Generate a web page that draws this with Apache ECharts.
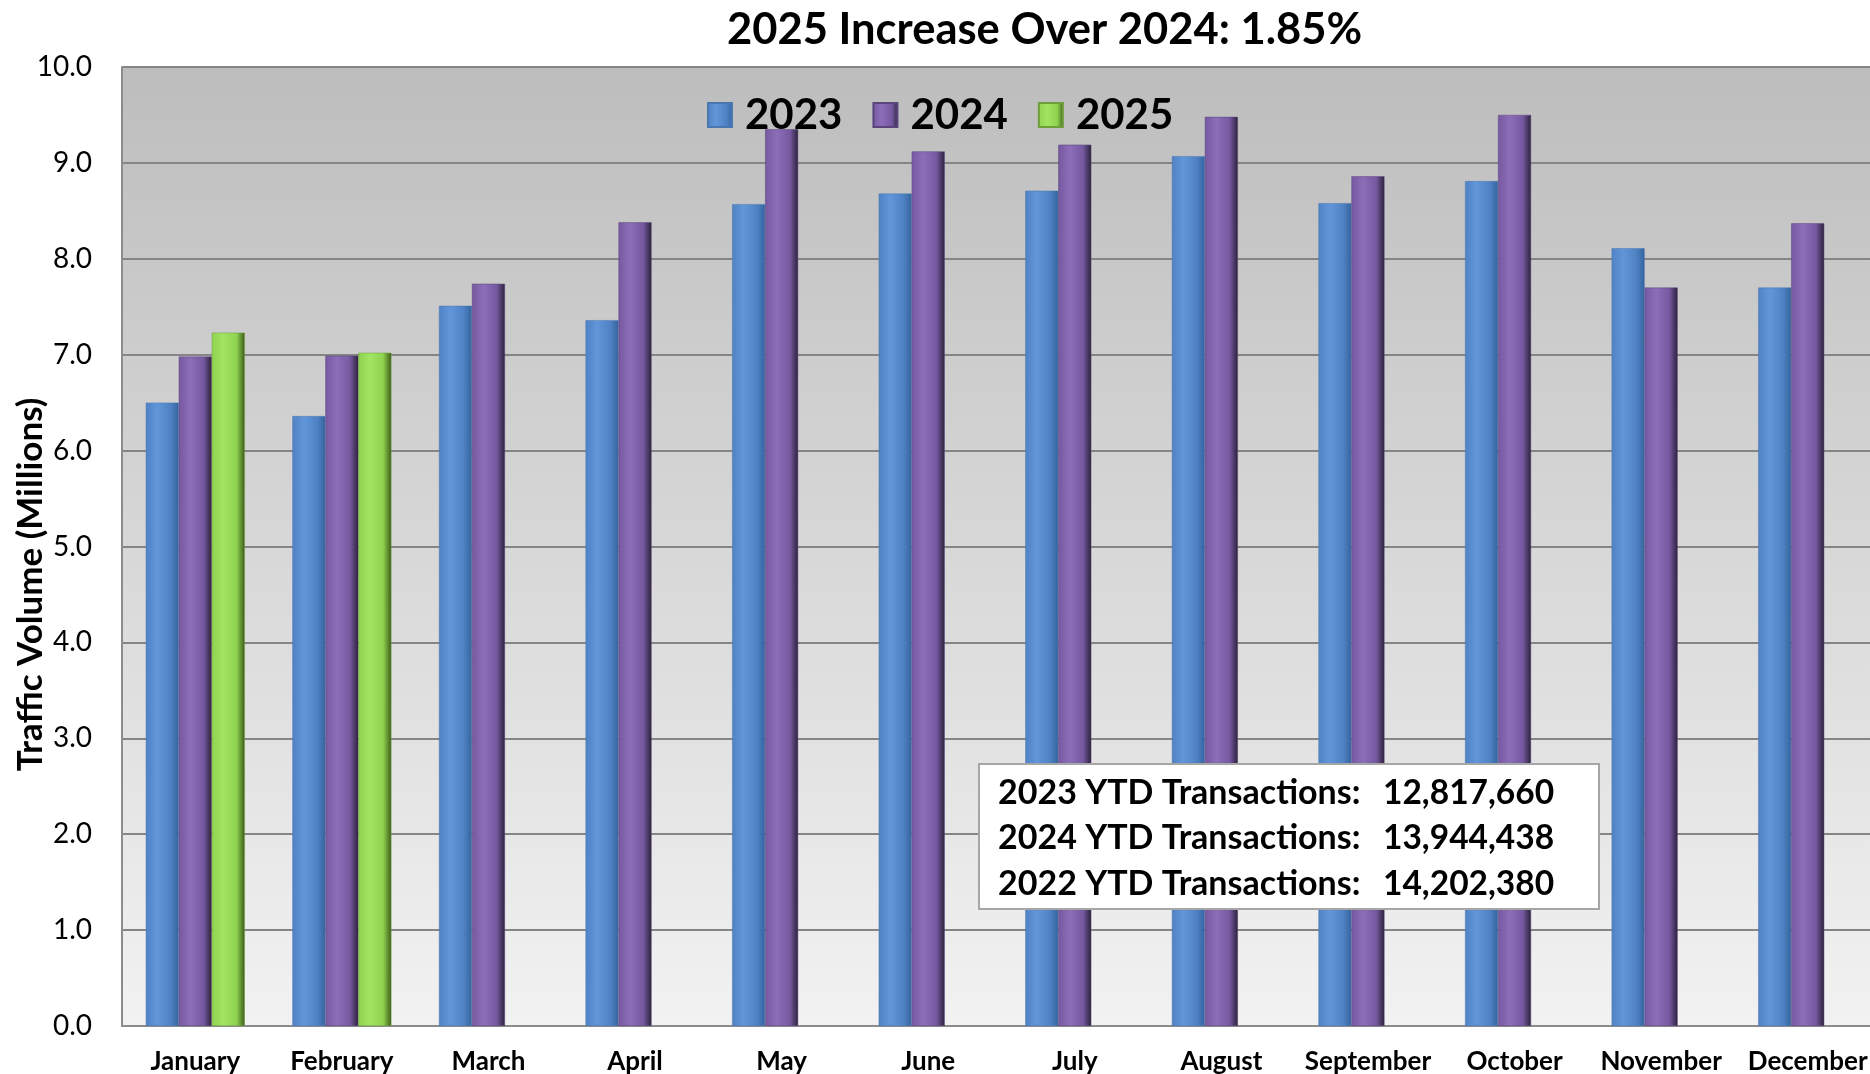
<!DOCTYPE html>
<html>
<head>
<meta charset="utf-8">
<script src="https://cdn.jsdelivr.net/npm/echarts@6/dist/echarts.min.js"></script>
<style>
  html, body { margin: 0; padding: 0; background: #fff; }
  #chart { width: 1870px; height: 1074px; }
</style>
</head>
<body>
<div id="chart"></div>
<script>
// data (millions)
const months = ['January', 'February', 'March', 'April', 'May', 'June',
  'July', 'August', 'September', 'October', 'November', 'December']
const vol2023 = [6.50, 6.36, 7.51, 7.36, 8.57, 8.68, 8.71, 9.07, 8.58, 8.81, 8.11, 7.70]
const vol2024 = [6.98, 6.99, 7.74, 8.38, 9.35, 9.12, 9.19, 9.48, 8.86, 9.50, 7.70, 8.37]
const vol2025 = [7.23, 7.02]
const yTicks = [0, 1, 2, 3, 4, 5, 6, 7, 8, 9, 10]
const ytdLines = [
  ['2023 YTD Transactions:', '12,817,660'],
  ['2024 YTD Transactions:', '13,944,438'],
  ['2022 YTD Transactions:', '14,202,380']
]

const font = 'Lato, "Open Sans", sans-serif'
const chart = echarts.init(document.getElementById('chart'))

// 3D-ish cylinder look for bars: horizontal gradient
function barColor (left, mid, right) {
  return new echarts.graphic.LinearGradient(0, 0, 1, 0, [
    { offset: 0, color: left },
    { offset: 0.35, color: mid },
    { offset: 0.75, color: left },
    { offset: 1, color: right }
  ])
}

// YTD box text
const ytdGraphics = []
ytdLines.forEach((row, i) => {
  ytdGraphics.push({
    type: 'text', x: 998, y: 793 + i * 45.5, z: 20,
    style: { text: row[0], font: 'bold 34px ' + font, fill: '#000', textVerticalAlign: 'middle' }
  })
  ytdGraphics.push({
    type: 'text', x: 1383, y: 793 + i * 45.5, z: 20,
    style: { text: row[1], font: 'bold 33.5px ' + font, fill: '#000', textVerticalAlign: 'middle' }
  })
})

const option = {
  animation: false,
  backgroundColor: '#fff',
  textStyle: { fontFamily: font },
  title: {
    text: '2025 Increase Over 2024: 1.85%',
    left: 727,
    top: 8,
    padding: 0,
    textStyle: { fontSize: 43.5, fontWeight: 'bold', color: '#000', fontFamily: font }
  },
  legend: {
    left: 707,
    top: 94,
    padding: 0,
    itemWidth: 24,
    itemHeight: 24,
    itemGap: 30,
    icon: 'rect',
    textStyle: { fontSize: 42, fontWeight: 'bold', color: '#000', fontFamily: font, padding: [0, 0, 0, 8] },
    data: ['2023', '2024', '2025']
  },
  grid: {
    left: 122,
    width: 1759,
    top: 67,
    bottom: 48,
    containLabel: false,
    outerBoundsMode: 'none',
    show: true,
    borderWidth: 0,
    backgroundColor: new echarts.graphic.LinearGradient(0, 0, 0, 1, [
      { offset: 0, color: '#bdbdbd' },
      { offset: 1, color: '#f2f2f2' }
    ])
  },
  xAxis: {
    type: 'category',
    data: months,
    axisLine: { lineStyle: { color: '#8c8c8c', width: 2 } },
    axisTick: { show: false },
    axisLabel: {
      fontSize: 26, fontWeight: 'bold', color: '#000', margin: 23, interval: 0
    }
  },
  yAxis: {
    type: 'value',
    min: 0,
    max: 10,
    interval: 1,
    name: 'Traffic Volume (Millions)',
    nameLocation: 'middle',
    nameGap: 74,
    nameMoveOverlap: false,
    nameTextStyle: { fontSize: 35, fontWeight: 'bold', color: '#000', padding: [0, 0, 0, -76] },
    axisLine: { show: true, lineStyle: { color: '#8c8c8c', width: 2 } },
    axisTick: { show: false },
    axisLabel: {
      fontSize: 28, color: '#000', margin: 30,
      formatter: v => yTicks.includes(v) ? v.toFixed(1) : ''
    },
    splitLine: { lineStyle: { color: '#858585', width: 2 } }
  },
  series: [
    {
      name: '2023', type: 'bar', data: vol2023, barWidth: 33, barGap: '0%',
      itemStyle: { color: barColor('#4f82c4', '#6196da', '#35649e'), borderColor: '#4a77b0', borderWidth: 0.5 }
    },
    {
      name: '2024', type: 'bar', data: vol2024, barWidth: 33, barGap: '0%',
      itemStyle: { color: barColor('#7559a0', '#8d6db8', '#2c2139'), borderColor: '#5a447c', borderWidth: 0.5 }
    },
    {
      name: '2025', type: 'bar', data: vol2025, barWidth: 33, barGap: '0%',
      itemStyle: { color: barColor('#8fd24f', '#a2e563', '#3c5c1a'), borderColor: '#6d9e3a', borderWidth: 0.5 }
    }
  ],
  graphic: [
    {
      type: 'rect', x: 979, y: 764, z: 10,
      shape: { width: 620, height: 145 },
      style: { fill: '#fff', stroke: '#a6a6a6', lineWidth: 2 }
    }
  ].concat(ytdGraphics)
}

chart.setOption(option)
</script>
</body>
</html>
